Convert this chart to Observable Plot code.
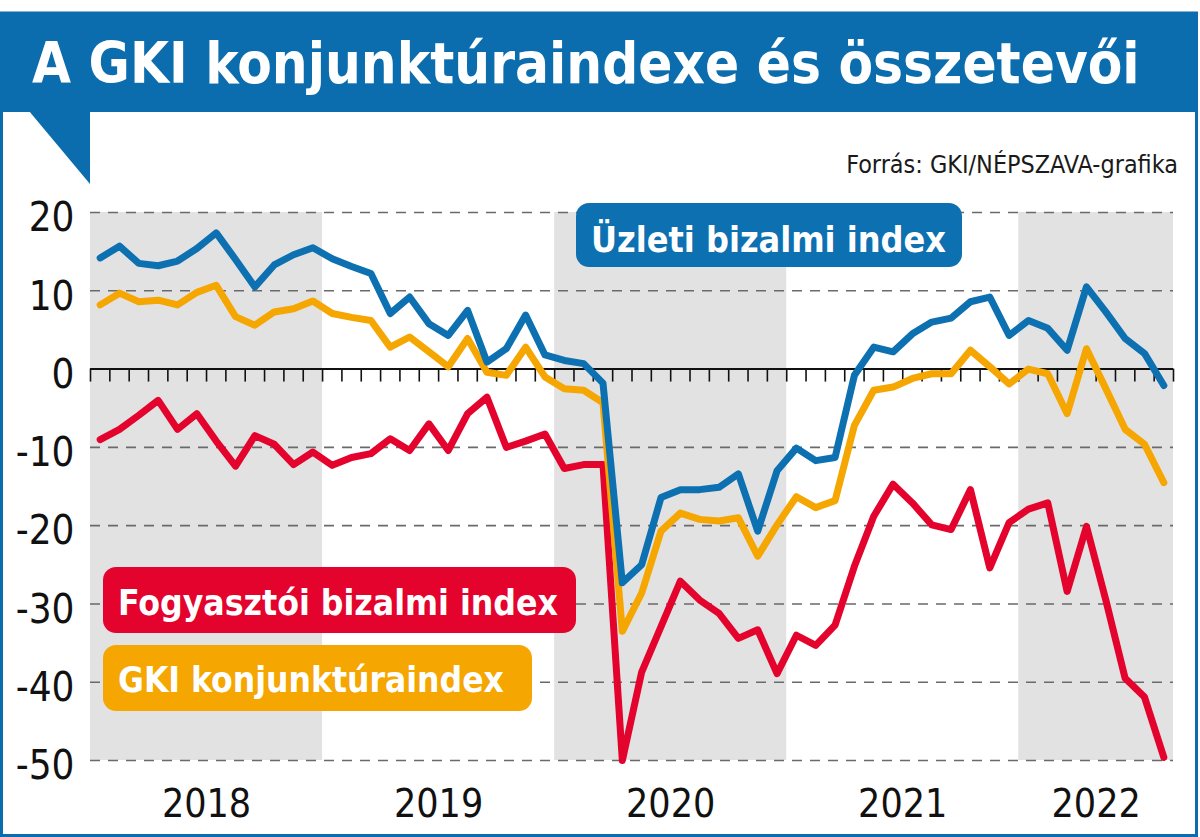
<!DOCTYPE html>
<html>
<head>
<meta charset="utf-8">
<script src="https://cdn.jsdelivr.net/npm/d3@7"></script>
<script src="https://cdn.jsdelivr.net/npm/@observablehq/plot@0.6"></script>
<style>
  body { margin: 0; background: #fff; }
  #wrap { position: relative; width: 1200px; height: 837px; overflow: hidden; background: #fff; }
  #plot { position: absolute; left: 0; top: 112px; }
  #deco { position: absolute; left: 0; top: 0; pointer-events: none; }
</style>
</head>
<body>
<div id="wrap">
  <div id="plot"></div>
  <svg id="deco" width="1200" height="837"></svg>
</div>
<script>
// ---------- data ----------
const startYear = 2018;
const years = [2018, 2019, 2020, 2021, 2022];
const shadedYears = [2018, 2020, 2022];
const monthCount = 56; // Jan 2018 – Aug 2022
const yTicks = [20, 10, 0, -10, -20, -30, -40, -50];

const uzleti = [14.2, 15.7, 13.5, 13.2, 13.8, 15.4, 17.4, 14.0, 10.5, 13.3, 14.6, 15.5,
  14.1, 13.1, 12.2, 7.1, 9.2, 5.8, 4.3, 7.5, 0.9, 2.6, 6.9, 1.8,
  1.1, 0.7, -1.8, -27.3, -25.0, -16.4, -15.4, -15.4, -15.1, -13.4, -20.7, -13.0,
  -10.1, -11.7, -11.3, -0.8, 2.8, 2.2, 4.5, 6.0, 6.5, 8.6, 9.2, 4.3,
  6.2, 5.2, 2.4, 10.5, 7.3, 3.9, 2.0, -2.1];

const gki = [8.2, 9.7, 8.6, 8.8, 8.2, 9.8, 10.7, 6.7, 5.6, 7.3, 7.7, 8.7,
  7.1, 6.6, 6.2, 2.8, 4.1, 2.2, 0.3, 3.9, -0.4, -0.8, 2.8, -1.0,
  -2.5, -2.7, -4.3, -33.5, -28.6, -20.7, -18.4, -19.2, -19.4, -19.0, -23.9, -19.9,
  -16.3, -17.7, -16.8, -7.2, -2.7, -2.3, -1.2, -0.6, -0.6, 2.4, 0.3, -1.9,
  0.0, -0.6, -5.7, 2.6, -2.5, -7.7, -9.6, -14.5];

const fogyasztoi = [-9.0, -7.7, -5.9, -4.0, -7.7, -5.7, -9.2, -12.4, -8.5, -9.6, -12.2, -10.6,
  -12.3, -11.3, -10.8, -8.9, -10.4, -7.0, -10.4, -5.7, -3.6, -10.0, -9.2, -8.3,
  -12.7, -12.2, -12.2, -50.0, -38.7, -32.9, -27.1, -29.5, -31.2, -34.4, -33.3, -38.9,
  -34.0, -35.3, -32.7, -25.2, -18.8, -14.7, -17.1, -19.9, -20.5, -15.4, -25.4, -19.6,
  -17.9, -17.1, -28.4, -20.1, -29.5, -39.5, -41.9, -49.6];

const seriesNames = ["Fogyasztói bizalmi index", "GKI konjunktúraindex", "Üzleti bizalmi index"];
const titleText = "A GKI konjunktúraindexe és összetevői";
const sourceText = "Forrás: GKI/NÉPSZAVA-grafika";

// ---------- styling ----------
const FONT = '"Liberation Sans Narrow", "DejaVu Sans Condensed", "Arial Narrow", sans-serif';
const BLUE = "#0b6cae";
const LINE_BLUE = "#0d70b1";
const ORANGE = "#f5a600";
const RED = "#e3032d";
const BAND = "#e2e2e2";

// ---------- tables built from the arrays ----------
const toRows = (vals) => vals.map((v, i) => ({x: i + 0.5, v}));
const clampEnd = (m) => Math.min(m, monthCount);
const bands = shadedYears.map(y => ({x1: (y - startYear) * 12, x2: clampEnd((y - startYear + 1) * 12)}));
const yearLabels = years.map(y => {
  const a = (y - startYear) * 12, b = clampEnd(a + 12);
  return {x: (a + b) / 2, label: String(y)};
});
const monthBounds = d3.range(monthCount + 1);

const plot = Plot.plot({
  width: 1200,
  height: 725,
  marginTop: 100,
  marginBottom: 77,
  marginLeft: 90,
  marginRight: 27,
  style: {background: "transparent", fontFamily: FONT, fontSize: "40px", color: "#111", overflow: "visible"},
  x: {type: "linear", domain: [0, monthCount], axis: null},
  y: {domain: [-50, 20], axis: null},
  marks: [
    Plot.rect(bands, {x1: "x1", x2: "x2", y1: -50, y2: 20, fill: BAND}),
    Plot.ruleY(yTicks.filter(d => d !== 0), {stroke: "#6a6a6a", strokeWidth: 1.6, strokeDasharray: "10,8"}),
    Plot.axisY({ticks: yTicks, tickSize: 0, tickPadding: 16, tickFormat: d => String(d), fontSize: 40, dy: 6, label: null, fill: "#111"}),
    Plot.ruleX(monthBounds, {x: d => d, y1: 0, y2: 0, insetBottom: -13, stroke: "#111", strokeWidth: 1.6}),
    Plot.ruleY([0], {stroke: "#111", strokeWidth: 2}),
    Plot.text(yearLabels, {x: "x", y: -50, text: "label", dy: 44, fontSize: 39, fill: "#111"}),
    Plot.line(toRows(fogyasztoi), {x: "x", y: "v", stroke: RED, strokeWidth: 7, strokeLinejoin: "round", strokeLinecap: "round"}),
    Plot.line(toRows(gki), {x: "x", y: "v", stroke: ORANGE, strokeWidth: 7, strokeLinejoin: "round", strokeLinecap: "round"}),
    Plot.line(toRows(uzleti), {x: "x", y: "v", stroke: LINE_BLUE, strokeWidth: 7, strokeLinejoin: "round", strokeLinecap: "round"})
  ]
});
document.getElementById("plot").appendChild(plot);

// ---------- title, frame, source, labels ----------
const deco = d3.select("#deco");
// fit a text's font size so its natural width matches the target width
function fitText(sel, target, maxSize) {
  const node = sel.node();
  const len = node.getComputedTextLength();
  const cur = +sel.attr("font-size");
  if (len > 0) sel.attr("font-size", Math.min(maxSize, cur * target / len).toFixed(2));
  return sel;
}
deco.append("rect").attr("x", 1.5).attr("y", 13).attr("width", 1195).attr("height", 822.5)
  .attr("fill", "none").attr("stroke", BLUE).attr("stroke-width", 3);
deco.append("rect").attr("x", 0).attr("y", 13).attr("width", 1198).attr("height", 99).attr("fill", BLUE);
deco.append("path").attr("d", "M29,111 L90,111 L90,184 Z").attr("fill", BLUE);
fitText(deco.append("text").attr("x", 32).attr("y", 83).attr("fill", "#fff")
  .attr("font-family", FONT).attr("font-weight", "bold").attr("font-size", 68).text(titleText), 1108, 68);
fitText(deco.append("text").attr("x", 1178).attr("y", 173).attr("fill", "#1a1a1a").attr("text-anchor", "end")
  .attr("font-family", FONT).attr("font-size", 29).text(sourceText), 332, 29);

const labels = [
  {name: seriesNames[2], color: LINE_BLUE, x: 576, y: 203, w: 386, h: 64, tw: 355, base: 252},
  {name: seriesNames[0], color: RED, x: 103, y: 567, w: 473, h: 66, tw: 440, base: 615},
  {name: seriesNames[1], color: ORANGE, x: 103, y: 645, w: 429, h: 66, tw: 386, base: 692}
];
labels.forEach(l => {
  deco.append("rect").attr("x", l.x).attr("y", l.y).attr("width", l.w).attr("height", l.h)
    .attr("rx", 13).attr("fill", l.color);
  fitText(deco.append("text").attr("x", l.x + 15).attr("y", l.base).attr("fill", "#fff")
    .attr("font-family", FONT).attr("font-weight", "bold").attr("font-size", 47).text(l.name), l.tw, 47);
});
</script>
</body>
</html>
